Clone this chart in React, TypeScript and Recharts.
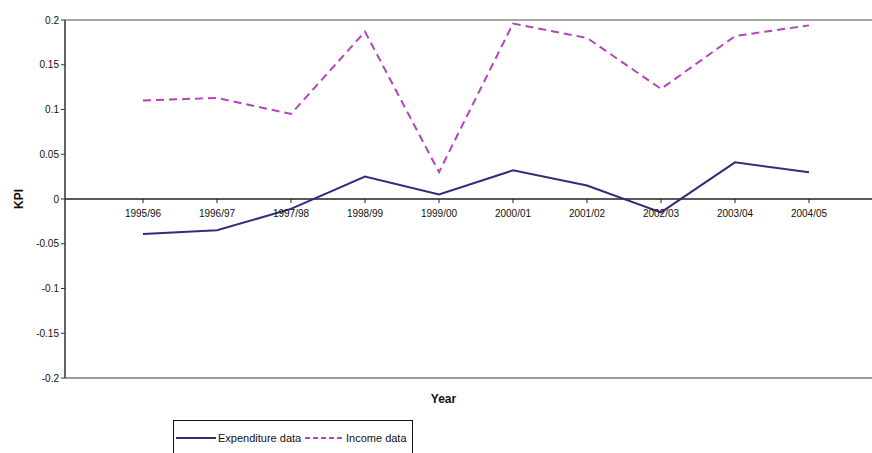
import React from 'react'
import { LineChart, Line, XAxis, YAxis, ReferenceLine, ReferenceDot } from 'recharts'

const years = ['1995/96', '1996/97', '1997/98', '1998/99', '1999/00', '2000/01', '2001/02', '2002/03', '2003/04', '2004/05']
const expenditure = [-0.039, -0.035, -0.011, 0.025, 0.005, 0.032, 0.015, -0.015, 0.041, 0.030]
const income = [0.11, 0.113, 0.095, 0.187, 0.03, 0.196, 0.18, 0.123, 0.182, 0.194]
const yTicks = [-0.2, -0.15, -0.1, -0.05, 0, 0.05, 0.1, 0.15, 0.2]

const EXP_COLOR = '#2e2e7c'
const INC_COLOR = '#b444bc'
const FONT = 'Arial, "Liberation Sans", sans-serif'

const data = years.map((year, i) => ({ year, expenditure: expenditure[i], income: income[i] }))

function zeroTick(label: string) {
  return (props: any) => {
    const { cx, cy } = props
    return (
      <g>
        <line x1={cx} y1={cy} x2={cx} y2={cy + 4} stroke="#222" strokeWidth={1} />
        <text x={cx} y={cy + 18} textAnchor="middle" fontSize={10} fontFamily={FONT} fill="#111">
          {label}
        </text>
      </g>
    )
  }
}

function KpiLabel({ viewBox }: any) {
  const x = 19
  const y = viewBox.y + viewBox.height / 2
  return (
    <text x={x} y={y} transform={`rotate(-90, ${x}, ${y})`} textAnchor="middle" dominantBaseline="central"
      fontSize={12} fontWeight="bold" fontFamily={FONT} fill="#111">
      KPI
    </text>
  )
}

function LegendBox() {
  return (
    <div style={{ position: 'absolute', left: 173, top: 420, width: 238, height: 40, border: '1px solid #111', background: '#fff', fontFamily: FONT, fontSize: 11, color: '#111' }}>
      <svg width={238} height={40} style={{ position: 'absolute', left: 0, top: 0 }}>
        <line x1={2} y1={17} x2={42} y2={17} stroke={EXP_COLOR} strokeWidth={2} />
        <text x={44} y={21} fontSize={11} fontFamily={FONT} fill="#111">Expenditure data</text>
        <line x1={131} y1={17} x2={170} y2={17} stroke={INC_COLOR} strokeWidth={2} strokeDasharray="5 3" />
        <text x={172} y={21} fontSize={11} fontFamily={FONT} fill="#111">Income data</text>
      </svg>
    </div>
  )
}

export default function App() {
  return (
    <div style={{ position: 'absolute', left: 0, top: 0, width: 872, height: 453, background: '#fff', overflow: 'hidden' }}>
      <LineChart width={872} height={453} data={data} margin={{ top: 20, right: 0, bottom: 45, left: 0 }}>
        <XAxis
          dataKey="year"
          tick={false}
          tickLine={false}
          axisLine={{ stroke: '#777', strokeWidth: 1.5 }}
          padding={{ left: 78, right: 63 }}
          height={30}
          label={{ value: 'Year', position: 'insideBottom', offset: 5, dx: -25, fontSize: 12, fontWeight: 'bold', fontFamily: FONT, fill: '#111' }}
        />
        <YAxis
          domain={[-0.2, 0.2]}
          ticks={yTicks}
          width={65}
          interval={0}
          tickFormatter={(v: number) => String(Math.round(v * 100) / 100)}
          tick={{ fontSize: 10, fontFamily: FONT, fill: '#111' }}
          tickSize={4}
          tickLine={{ stroke: '#333' }}
          axisLine={{ stroke: '#333', strokeWidth: 1.5 }}
          label={<KpiLabel />}
        />
        <ReferenceLine y={0.2} stroke="#888" strokeWidth={1.5} />
        <ReferenceLine y={0} stroke="#222" strokeWidth={1.5} />
        {years.map((y) => (
          <ReferenceDot key={y} x={y} y={0} r={0} shape={zeroTick(y)} />
        ))}
        <Line type="linear" dataKey="expenditure" name="Expenditure data" stroke={EXP_COLOR} strokeWidth={2} dot={false} isAnimationActive={false} />
        <Line type="linear" dataKey="income" name="Income data" stroke={INC_COLOR} strokeWidth={2} strokeDasharray="8 5" dot={false} isAnimationActive={false} />
      </LineChart>
      <LegendBox />
    </div>
  )
}
